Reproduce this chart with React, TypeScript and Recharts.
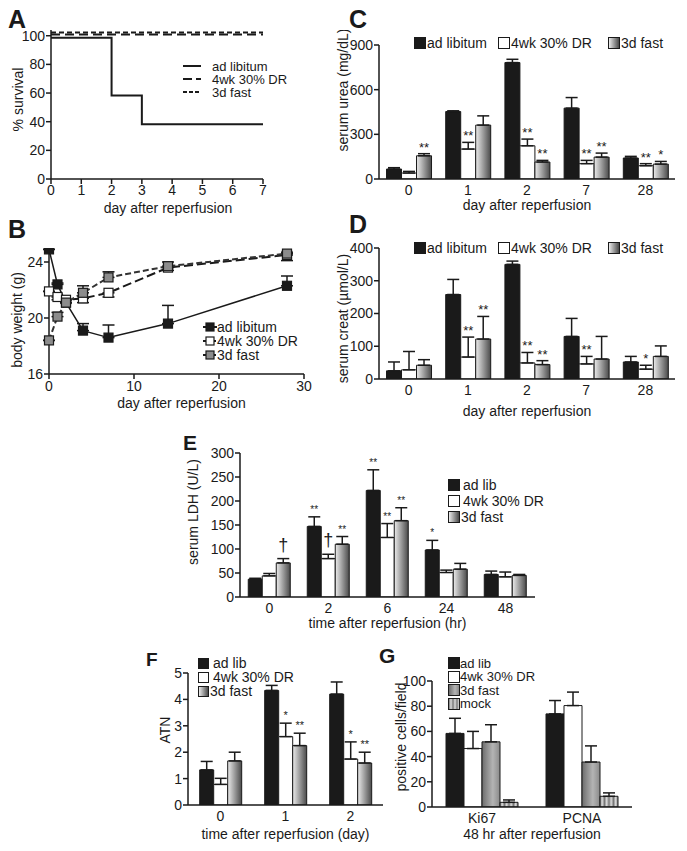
import React from 'react'
import { LineChart, Line, BarChart, Bar, XAxis, YAxis, ErrorBar, Label, LabelList } from 'recharts'

const FONT = '"Liberation Sans", Arial, Helvetica, sans-serif'
const INK = '#1a1a1a'
const axisLine = { stroke: INK, strokeWidth: 1.5 }
const tickStyle = { fill: INK, fontSize: 14, fontFamily: FONT }

// A - survival
const survDays = [0, 1, 2, 3, 4, 5, 6, 7]
const survAdLib = [98.6, 98.6, 58.3, 38.3, 38.3, 38.3, 38.3, 38.3]
const survDR = [100.9, 100.9, 100.9, 100.9, 100.9, 100.9, 100.9, 100.9]
const survFast = [102.3, 102.3, 102.3, 102.3, 102.3, 102.3, 102.3, 102.3]

// B - body weight
const bwDays = [0, 1, 2, 4, 7, 14, 28]
const bwAdLib = [24.9, 22.4, 21.1, 19.1, 18.6, 19.6, 22.3]
const bwAdLibErr = [0, 0.1, 0, 0.5, 0.9, 1.3, 0.7]
const bwDR = [21.9, 21.5, 21.3, 21.4, 21.8, 23.6, 24.5]
const bwDRErr = [0, 0.2, 0, 0.3, 0.3, 0.2, 0.4]
const bwFast = [18.4, 20.1, 21.1, 21.8, 22.9, 23.7, 24.6]
const bwFastErr = [0, 0.3, 0, 0.5, 0.4, 0.3, 0.1]

// C - serum urea
const ureaDays = ['0', '1', '2', '7', '28']
const ureaAdLib = [67, 453, 782, 476, 141]
const ureaAdLibErr = [9, 5, 22, 71, 11]
const ureaDR = [40, 201, 223, 103, 89]
const ureaDRErr = [11, 45, 45, 22, 14]
const ureaDRSig = ['', '**', '**', '**', '**']
const ureaFast = [156, 362, 114, 147, 100]
const ureaFastErr = [14, 62, 11, 27, 18]
const ureaFastSig = ['**', '', '**', '**', '*']

// D - serum creatinine
const creatDays = ['0', '1', '2', '7', '28']
const creatAdLib = [25, 258, 350, 130, 52]
const creatAdLibErr = [27, 46, 10, 55, 17]
const creatDR = [28, 67, 49, 46, 30]
const creatDRErr = [56, 61, 32, 23, 12]
const creatDRSig = ['', '**', '**', '**', '*']
const creatFast = [42, 122, 44, 61, 69]
const creatFastErr = [17, 69, 12, 69, 32]
const creatFastSig = ['', '**', '**', '', '']

// E - serum LDH
const ldhHours = ['0', '2', '6', '24', '48']
const ldhAdLib = [37, 147, 222, 98, 47]
const ldhAdLibErr = [2, 20, 43, 20, 7]
const ldhAdLibSig = ['', '**', '**', '*', '']
const ldhDR = [44, 80, 124, 51, 42]
const ldhDRErr = [5, 9, 29, 5, 10]
const ldhDRSig = ['', '†', '**', '', '']
const ldhFast = [71, 110, 159, 58, 45]
const ldhFastErr = [9, 16, 27, 12, 2]
const ldhFastSig = ['†', '**', '**', '', '']

// F - ATN score
const atnDays = ['0', '1', '2']
const atnAdLib = [1.33, 4.34, 4.2]
const atnAdLibErr = [0.32, 0.19, 0.46]
const atnDR = [0.78, 2.59, 1.74]
const atnDRErr = [0.23, 0.51, 0.65]
const atnDRSig = ['', '*', '*']
const atnFast = [1.67, 2.25, 1.59]
const atnFastErr = [0.33, 0.47, 0.41]
const atnFastSig = ['', '**', '**']

// G - proliferation
const prolifMarkers = ['Ki67', 'PCNA']
const prolifAdLib = [58.4, 73.9]
const prolifAdLibErr = [12, 10.6]
const prolifDR = [46.4, 80.5]
const prolifDRErr = [13.6, 10.7]
const prolifFast = [51.7, 35.7]
const prolifFastErr = [13.6, 12.8]
const prolifMock = [3.7, 8.5]
const prolifMockErr = [1.9, 2.7]

type Series = { key: string; values: number[]; errors: number[]; sig?: string[]; fill: string }

const sigContent = (s: Series, size: number, lift: number) => (p: any) => {
  const vb = p.viewBox || {}
  const i = p.index
  const mark = s.sig ? s.sig[i] : ''
  if (!mark) return null
  const v = s.values[i]
  const perUnit = v ? vb.height / v : 0
  const top = vb.y - s.errors[i] * perUnit
  const dagger = mark === '†'
  return (
    <text key={i} x={vb.x + vb.width / 2} y={top - (dagger ? lift + 4 : lift)} textAnchor="middle"
      fontSize={dagger ? 18 : size} fontFamily={FONT} fill={INK}>{mark}</text>
  )
}

const Defs = () => (
  <defs>
    <linearGradient id="fastGrad" x1="0" y1="0" x2="1" y2="0">
      <stop offset="0%" stopColor="#ececec" />
      <stop offset="100%" stopColor="#4a4a4a" />
    </linearGradient>
    <linearGradient id="fastGradG" x1="0" y1="0" x2="1" y2="0">
      <stop offset="0%" stopColor="#6c6c6c" />
      <stop offset="60%" stopColor="#b4b4b4" />
      <stop offset="100%" stopColor="#8a8a8a" />
    </linearGradient>
    <linearGradient id="mockGrad" x1="0" y1="0" x2="1" y2="0">
      <stop offset="0%" stopColor="#777" />
      <stop offset="12%" stopColor="#ddd" />
      <stop offset="25%" stopColor="#777" />
      <stop offset="37%" stopColor="#ddd" />
      <stop offset="50%" stopColor="#777" />
      <stop offset="62%" stopColor="#ddd" />
      <stop offset="75%" stopColor="#777" />
      <stop offset="87%" stopColor="#ddd" />
      <stop offset="100%" stopColor="#777" />
    </linearGradient>
  </defs>
)

type BarPanelProps = {
  left: number; top: number; width: number; height: number
  marginTop: number; marginRight: number; yWidth: number; xHeight: number
  categories: string[]; series: Series[]
  domain: number[]; ticks: number[]
  yTitle: string; yTitleOffset: number; yTitleDy: number; xTitle: string; xTitleOffset: number
  gap: string; sigSize: number; sigLift: number
}

function BarPanel(p: BarPanelProps) {
  const data = p.categories.map((c, i) => {
    const row: any = { cat: c }
    p.series.forEach(s => {
      row[s.key] = s.values[i]
      row[s.key + 'Err'] = [0, s.errors[i]]
    })
    return row
  })
  const edges = p.categories.map((_, i) => i + 1).slice(0, -1)
  return (
    <div style={{ position: 'absolute', left: p.left, top: p.top }}>
      <BarChart width={p.width} height={p.height} data={data} barGap={0} barCategoryGap={p.gap}
        margin={{ top: p.marginTop, right: p.marginRight, left: 0, bottom: 0 }}>
        <Defs />
        <XAxis xAxisId="edge" type="number" domain={[0, p.categories.length]} ticks={edges} tick={false}
          axisLine={false} tickLine={{ stroke: INK, strokeWidth: 1.5 }} tickSize={5} height={0} allowDataOverflow />
        <XAxis dataKey="cat" tick={tickStyle} tickLine={false} axisLine={axisLine} tickSize={6} tickMargin={0}
          height={p.xHeight} interval={0}>
          <Label value={p.xTitle} position="insideBottom" offset={p.xTitleOffset} fontSize={14}
            style={{ fill: INK, fontFamily: FONT }} />
        </XAxis>
        <YAxis width={p.yWidth} domain={p.domain} ticks={p.ticks} tick={tickStyle} axisLine={axisLine}
          tickLine={{ stroke: INK, strokeWidth: 1.5 }} tickSize={5} tickMargin={1} allowDataOverflow>
          <Label value={p.yTitle} angle={-90} position="insideLeft" offset={p.yTitleOffset} dy={p.yTitleDy}
            fontSize={14} style={{ fill: INK, fontFamily: FONT, textAnchor: 'middle' }} />
        </YAxis>
        {p.series.map(s => (
          <Bar key={s.key} dataKey={s.key} fill={s.fill} stroke={INK} strokeWidth={1} isAnimationActive={false}>
            <ErrorBar dataKey={s.key + 'Err'} width={6} stroke={INK} strokeWidth={1.5} direction="y" />
            {s.sig && <LabelList content={sigContent(s, p.sigSize, p.sigLift)} />}
          </Bar>
        ))}
      </BarChart>
    </div>
  )
}

const txt = (x: number, cy: number, size: number, text: string, lh = size) => (
  <div style={{
    position: 'absolute', left: x, top: cy - lh / 2, fontSize: size, lineHeight: `${lh}px`,
    fontFamily: FONT, color: INK, whiteSpace: 'nowrap',
  }}>{text}</div>
)

const swatchBg: Record<string, string> = {
  black: INK,
  white: '#fff',
  fast: 'linear-gradient(to right, #ececec, #4a4a4a)',
  fastG: 'linear-gradient(to right, #6c6c6c, #b4b4b4 60%, #8a8a8a)',
  mock: 'repeating-linear-gradient(to right, #777 0px, #ddd 2px, #777 4px)',
}

const box = (x: number, cy: number, s: number, kind: string) => (
  <div style={{
    position: 'absolute', left: x, top: cy - s / 2, width: s - 2, height: s - 2,
    border: `1px solid ${INK}`, background: swatchBg[kind],
  }} />
)

const letter = (x: number, capTop: number, size: number, t: string) => (
  <div style={{
    position: 'absolute', left: x, top: capTop - size * 0.13, fontSize: size, lineHeight: 1,
    fontFamily: FONT, fontWeight: 700, color: INK,
  }}>{t}</div>
)

function PanelA() {
  const data = survDays.map((d, i) => ({ day: d, adlib: survAdLib[i], dr: survDR[i], fast: survFast[i] }))
  return (
    <div style={{ position: 'absolute', left: 0, top: 20 }}>
      <LineChart width={285} height={200} data={data} margin={{ top: 10, right: 22, left: 0, bottom: 0 }}>
        <XAxis dataKey="day" type="number" domain={[0, 7]} ticks={survDays} tick={tickStyle}
          axisLine={axisLine} tickLine={{ stroke: INK, strokeWidth: 1.5 }} tickSize={5} tickMargin={1} height={41}>
          <Label value="day  after reperfusion" position="insideBottom" offset={7} dx={11} fontSize={14}
            style={{ fill: INK, fontFamily: FONT }} />
        </XAxis>
        <YAxis width={51} domain={[0, 104]} ticks={[0, 20, 40, 60, 80, 100]} tick={tickStyle} axisLine={axisLine}
          tickLine={{ stroke: INK, strokeWidth: 1.5 }} tickSize={5} tickMargin={1} allowDataOverflow>
          <Label value="% survival" angle={-90} position="insideLeft" offset={18} dy={-5} fontSize={14}
            style={{ fill: INK, fontFamily: FONT, textAnchor: 'middle' }} />
        </YAxis>
        <Line type="stepAfter" dataKey="adlib" stroke={INK} strokeWidth={2} dot={false} isAnimationActive={false} />
        <Line type="stepAfter" dataKey="dr" stroke={INK} strokeWidth={2} strokeDasharray="9 5" dot={false} isAnimationActive={false} />
        <Line type="stepAfter" dataKey="fast" stroke={INK} strokeWidth={2} strokeDasharray="5 3" dot={false} isAnimationActive={false} />
      </LineChart>
    </div>
  )
}

const square = (fill: string) => (props: any) => (
  <rect key={props.index} x={props.cx - 4.5} y={props.cy - 4.5} width={9} height={9} fill={fill} stroke={INK} strokeWidth={1.2} />
)

function PanelB() {
  const data = bwDays.map((d, i) => ({
    day: d,
    adlib: bwAdLib[i], adlibErr: [0, bwAdLibErr[i]],
    dr: bwDR[i], drErr: [bwDRErr[i], 0],
    fast: bwFast[i], fastErr: [0, bwFastErr[i]],
  }))
  return (
    <div style={{ position: 'absolute', left: 0, top: 238 }}>
      <LineChart width={330} height={180} data={data} margin={{ top: 10, right: 26, left: 0, bottom: 0 }}>
        <XAxis dataKey="day" type="number" domain={[0, 30]} ticks={[0, 10, 20, 30]} tick={tickStyle}
          axisLine={axisLine} tickLine={{ stroke: INK, strokeWidth: 1.5 }} tickSize={5} tickMargin={2} height={44}>
          <Label value="day  after reperfusion" position="insideBottom" offset={10} dx={5} fontSize={14}
            style={{ fill: INK, fontFamily: FONT }} />
        </XAxis>
        <YAxis width={49} domain={[16, 25]} ticks={[16, 20, 24]} tick={tickStyle} axisLine={axisLine}
          tickLine={{ stroke: INK, strokeWidth: 1.5 }} tickSize={5} tickMargin={1} allowDataOverflow>
          <Label value="body weight (g)" angle={-90} position="insideLeft" offset={17} dy={9} fontSize={14}
            style={{ fill: INK, fontFamily: FONT, textAnchor: 'middle' }} />
        </YAxis>
        <Line dataKey="adlib" stroke={INK} strokeWidth={1.5} dot={square(INK)} isAnimationActive={false}>
          <ErrorBar dataKey="adlibErr" width={6} stroke={INK} strokeWidth={1.5} direction="y" />
        </Line>
        <Line dataKey="dr" stroke={INK} strokeWidth={2} strokeDasharray="9 4" dot={square('#fff')} isAnimationActive={false}>
          <ErrorBar dataKey="drErr" width={6} stroke={INK} strokeWidth={1.5} direction="y" />
        </Line>
        <Line dataKey="fast" stroke="#333" strokeWidth={2} strokeDasharray="6 3" dot={square('#8c8c8c')} isAnimationActive={false}>
          <ErrorBar dataKey="fastErr" width={6} stroke={INK} strokeWidth={1.5} direction="y" />
        </Line>
      </LineChart>
    </div>
  )
}

const lineSample = (x: number, cy: number, w: number, dash: string | undefined, marker?: string) => (
  <svg style={{ position: 'absolute', left: x, top: cy - 6 }} width={w} height={12}>
    <line x1={0} y1={6} x2={w} y2={6} stroke={INK} strokeWidth={2} strokeDasharray={dash} />
    {marker && <rect x={w / 2 - 4} y={2} width={8} height={8} fill={marker} stroke={INK} strokeWidth={1.2} />}
  </svg>
)

export default function App() {
  const urea: Series[] = [
    { key: 'adlib', values: ureaAdLib, errors: ureaAdLibErr, fill: INK },
    { key: 'dr', values: ureaDR, errors: ureaDRErr, sig: ureaDRSig, fill: '#fff' },
    { key: 'fast', values: ureaFast, errors: ureaFastErr, sig: ureaFastSig, fill: 'url(#fastGrad)' },
  ]
  const creat: Series[] = [
    { key: 'adlib', values: creatAdLib, errors: creatAdLibErr, fill: INK },
    { key: 'dr', values: creatDR, errors: creatDRErr, sig: creatDRSig, fill: '#fff' },
    { key: 'fast', values: creatFast, errors: creatFastErr, sig: creatFastSig, fill: 'url(#fastGrad)' },
  ]
  const ldh: Series[] = [
    { key: 'adlib', values: ldhAdLib, errors: ldhAdLibErr, sig: ldhAdLibSig, fill: INK },
    { key: 'dr', values: ldhDR, errors: ldhDRErr, sig: ldhDRSig, fill: '#fff' },
    { key: 'fast', values: ldhFast, errors: ldhFastErr, sig: ldhFastSig, fill: 'url(#fastGrad)' },
  ]
  const atn: Series[] = [
    { key: 'adlib', values: atnAdLib, errors: atnAdLibErr, fill: INK },
    { key: 'dr', values: atnDR, errors: atnDRErr, sig: atnDRSig, fill: '#fff' },
    { key: 'fast', values: atnFast, errors: atnFastErr, sig: atnFastSig, fill: 'url(#fastGrad)' },
  ]
  const prolif: Series[] = [
    { key: 'adlib', values: prolifAdLib, errors: prolifAdLibErr, fill: INK },
    { key: 'dr', values: prolifDR, errors: prolifDRErr, fill: '#fff' },
    { key: 'fast', values: prolifFast, errors: prolifFastErr, fill: 'url(#fastGradG)' },
    { key: 'mock', values: prolifMock, errors: prolifMockErr, fill: 'url(#mockGrad)' },
  ]

  return (
    <div style={{ position: 'absolute', left: 0, top: 0, width: 687, height: 851, background: '#fff', fontFamily: FONT }}>
      <PanelA />
      <PanelB />
      <BarPanel left={330} top={30} width={357} height={190} marginTop={15} marginRight={12} yWidth={49} xHeight={41}
        categories={ureaDays} series={urea} domain={[0, 900]} ticks={[0, 300, 600, 900]}
        yTitle="serum urea (mg/dL)" yTitleOffset={13} yTitleDy={-22} xTitle="day  after reperfusion" xTitleOffset={10}
        gap="12.7%" sigSize={13} sigLift={2} />
      <BarPanel left={330} top={235} width={357} height={190} marginTop={13} marginRight={12} yWidth={49} xHeight={46}
        categories={creatDays} series={creat} domain={[0, 400]} ticks={[0, 100, 200, 300, 400]}
        yTitle="serum creat (µmol/L)" yTitleOffset={13} yTitleDy={5} xTitle="day  after reperfusion" xTitleOffset={9}
        gap="12.7%" sigSize={13} sigLift={2} />
      <BarPanel left={150} top={440} width={390} height={200} marginTop={13} marginRight={5} yWidth={90} xHeight={43}
        categories={ldhHours} series={ldh} domain={[0, 300]} ticks={[0, 50, 100, 150, 200, 250, 300]}
        yTitle="serum LDH (U/L)" yTitleOffset={43} yTitleDy={-13} xTitle="time after reperfusion (hr)" xTitleOffset={12}
        gap="14%" sigSize={10} sigLift={4} />
      <BarPanel left={100} top={660} width={295} height={191} marginTop={13} marginRight={12} yWidth={88} xHeight={46}
        categories={atnDays} series={atn} domain={[0, 5]} ticks={[0, 1, 2, 3, 4, 5]}
        yTitle="ATN" yTitleOffset={65} yTitleDy={-9} xTitle="time after reperfusion (day)" xTitleOffset={12}
        gap="18%" sigSize={11} sigLift={4} />
      <BarPanel left={340} top={660} width={310} height={191} marginTop={21} marginRight={18} yWidth={92} xHeight={44}
        categories={prolifMarkers} series={prolif} domain={[0, 100]} ticks={[0, 20, 40, 60, 80, 100]}
        yTitle="positive cells/field" yTitleOffset={61} yTitleDy={-7} xTitle="48 hr after reperfusion" xTitleOffset={12}
        gap="14%" sigSize={11} sigLift={4} />

      {letter(8, 10, 25, 'A')}
      {letter(8, 220, 25, 'B')}
      {letter(349, 10, 25, 'C')}
      {letter(349, 215, 25, 'D')}
      {letter(183, 435, 21, 'E')}
      {letter(146, 652, 19, 'F')}
      {letter(379, 648, 21, 'G')}

      {lineSample(183, 66, 18, undefined)}
      {txt(212, 66, 13, 'ad libitum', 13)}
      {lineSample(183, 79, 18, '9 4 5 9')}
      {txt(212, 79, 13, '4wk 30% DR', 13)}
      {lineSample(183, 92, 18, '4 2')}
      {txt(212, 92, 13, '3d fast', 13)}

      {lineSample(203, 327, 14, undefined, INK)}
      {txt(217, 327, 14, 'ad libitum')}
      {lineSample(203, 341, 14, '3 2', '#fff')}
      {txt(217, 341, 14, '4wk 30% DR')}
      {lineSample(203, 355, 14, '3 2', '#8c8c8c')}
      {txt(217, 355, 14, '3d fast')}

      {box(414, 43, 12, 'black')}{txt(427, 43, 14, 'ad libitum')}
      {box(498, 43, 12, 'white')}{txt(511, 43, 14, '4wk 30% DR')}
      {box(608, 43, 12, 'fast')}{txt(621, 43, 14, '3d fast')}

      {box(414, 248, 12, 'black')}{txt(427, 248, 14, 'ad libitum')}
      {box(498, 248, 12, 'white')}{txt(511, 248, 14, '4wk 30% DR')}
      {box(608, 248, 12, 'fast')}{txt(621, 248, 14, '3d fast')}

      {box(448, 485, 12, 'black')}{txt(463, 485, 14, 'ad lib')}
      {box(448, 501, 12, 'white')}{txt(463, 501, 14, '4wk 30% DR')}
      {box(448, 517, 12, 'fast')}{txt(461, 517, 14, '3d fast')}

      {box(198, 663, 11, 'black')}{txt(213, 663, 14, 'ad lib')}
      {box(198, 677, 11, 'white')}{txt(213, 677, 14, '4wk 30% DR')}
      {box(198, 691, 11, 'fast')}{txt(210, 691, 14, '3d fast')}

      {box(448, 663, 12, 'black')}{txt(460, 663, 13, 'ad lib', 13)}
      {box(448, 676.5, 12, 'white')}{txt(460, 676.5, 13, '4wk 30% DR', 13)}
      {box(448, 690, 12, 'fastG')}{txt(460, 690, 13, '3d fast', 13)}
      {box(448, 703.5, 12, 'mock')}{txt(460, 703.5, 13, 'mock', 13)}
    </div>
  )
}
